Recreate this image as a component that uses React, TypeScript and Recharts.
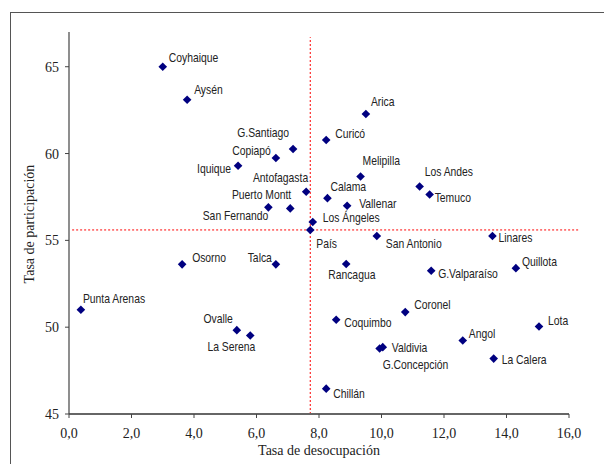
import React from 'react'
import { ScatterChart, Scatter, XAxis, YAxis, ReferenceLine, Label } from 'recharts'

// comunas, tasa de desocupación (%) y tasa de participación (%)
const comunas = [
  'Coyhaique', 'Aysén', 'G.Santiago', 'Copiapó', 'Iquique', 'Antofagasta', 'Puerto Montt',
  'San Fernando', 'Curicó', 'Los Ángeles', 'Arica', 'Melipilla', 'Los Andes', 'Temuco',
  'Calama', 'Vallenar', 'País', 'San Antonio', 'Linares', 'Rancagua', 'G.Valparaíso',
  'Quillota', 'Osorno', 'Talca', 'Punta Arenas', 'Ovalle', 'La Serena', 'Chillán', 'Coronel',
  'Coquimbo', 'Lota', 'Angol', 'Valdivia', 'G.Concepción', 'La Calera',
]
const desocupacion = [
  3.0, 3.78, 7.17, 6.62, 5.41, 7.59, 7.08, 6.38, 8.23, 7.8, 9.5, 9.33, 11.22, 11.54, 8.27,
  8.9, 7.72, 9.85, 13.55, 8.87, 11.59, 14.3, 3.62, 6.62, 0.38, 5.37, 5.8, 8.23, 10.76, 8.55,
  15.04, 12.6, 10.04, 9.94, 13.59,
]
const participacion = [
  65.0, 63.1, 60.26, 59.74, 59.3, 57.8, 56.84, 56.9, 60.78, 56.06, 62.28, 58.68, 58.1, 57.64,
  57.43, 56.99, 55.6, 55.25, 55.25, 53.64, 53.25, 53.4, 53.62, 53.62, 51.0, 49.83, 49.52,
  46.46, 50.87, 50.43, 50.04, 49.23, 48.85, 48.77, 48.19,
]
const promedioX = 7.72
const promedioY = 55.6
const xTicks = [0, 2, 4, 6, 8, 10, 12, 14, 16]
const yTicks = [45, 50, 55, 60, 65]

const data = comunas.map((name, i) => ({
  name,
  x: desocupacion[i],
  y: participacion[i],
}))

// dónde va cada etiqueta respecto del rombo: [dx, dy, anchor]
const etiquetas: Record<string, [number, number, 'start' | 'end']> = {
  Coyhaique: [6, -9, 'start'],
  'Aysén': [7, -10, 'start'],
  'G.Santiago': [-4, -16, 'end'],
  'Copiapó': [-5, -7, 'end'],
  Iquique: [-7, 3, 'end'],
  Antofagasta: [2, -14, 'end'],
  'Puerto Montt': [1, -14, 'end'],
  'San Fernando': [0, 8, 'end'],
  'Curicó': [9, -6, 'start'],
  'Los Ángeles': [10, -4, 'start'],
  Arica: [5, -12, 'start'],
  Melipilla: [2, -16, 'start'],
  'Los Andes': [5, -15, 'start'],
  Temuco: [5, 3, 'start'],
  Calama: [3, -12, 'start'],
  Vallenar: [12, -2.5, 'start'],
  'País': [6, 14, 'start'],
  'San Antonio': [9, 8, 'start'],
  Linares: [6, 2, 'start'],
  Rancagua: [-18, 11, 'start'],
  'G.Valparaíso': [7, 3, 'start'],
  Quillota: [6, -6, 'start'],
  Osorno: [10, -7, 'start'],
  Talca: [-4, -7, 'end'],
  'Punta Arenas': [2, -11, 'start'],
  Ovalle: [-4, -11, 'end'],
  'La Serena': [5, 11, 'end'],
  'Chillán': [7, 5, 'start'],
  Coronel: [9, -7, 'start'],
  Coquimbo: [8, 3, 'start'],
  Lota: [9, -6, 'start'],
  Angol: [6, -7, 'start'],
  Valdivia: [9, 0, 'start'],
  'G.Concepción': [3, 16, 'start'],
  'La Calera': [8, 1, 'start'],
}

const serif = '"Liberation Serif", "Times New Roman", Times, serif'
const sans = '"Liberation Sans", Arial, sans-serif'

const Rombo = (props: any) => {
  const { cx, cy, payload } = props
  const r = 4.3
  const [dx, dy, anchor] = etiquetas[payload.name] ?? [6, -8, 'start']
  return (
    <g>
      <path
        d={`M${cx},${cy - r}L${cx + r},${cy}L${cx},${cy + r}L${cx - r},${cy}Z`}
        fill="#000080"
      />
      {/* letra angosta, como Arial Narrow */}
      <text
        transform={`translate(${cx + dx},${cy + dy}) scale(0.83,1)`}
        textAnchor={anchor}
        dominantBaseline="central"
        fontFamily={sans}
        fontSize={12.5}
        fill="#222"
      >
        {payload.name}
      </text>
    </g>
  )
}

const TituloY = (props: any) => {
  const vb = props.viewBox ?? { x: 0, y: 32, width: 69, height: 382 }
  const cx = vb.x + 29
  const cy = vb.y + vb.height / 2 + 1
  return (
    <text
      transform={`translate(${cx},${cy}) rotate(-90)`}
      textAnchor="middle"
      dominantBaseline="central"
      fontFamily={serif}
      fontSize={14}
      fill="#222"
    >
      Tasa de participación
    </text>
  )
}

const TituloX = (props: any) => {
  const vb = props.viewBox ?? { x: 69, y: 414, width: 500, height: 30 }
  return (
    <text
      x={vb.x + vb.width / 2}
      y={vb.y + 36}
      textAnchor="middle"
      dominantBaseline="central"
      fontFamily={serif}
      fontSize={14}
      fill="#222"
    >
      Tasa de desocupación
    </text>
  )
}

export default function App() {
  return (
    <div
      style={{
        position: 'absolute',
        left: 0,
        top: 0,
        width: 604,
        height: 464,
        overflow: 'hidden',
        background: '#fff',
      }}
    >
      <div
        style={{
          position: 'absolute',
          left: 10,
          top: 12,
          width: 640,
          height: 500,
          border: '1px solid #555',
        }}
      />
      <div style={{ position: 'absolute', left: 0, top: 0 }}>
        <ScatterChart width={604} height={464} margin={{ top: 32, right: 35, bottom: 20, left: 0 }}>
          <XAxis
            type="number"
            dataKey="x"
            domain={[0, 16]}
            ticks={xTicks}
            height={30}
            tickSize={4}
            tickMargin={10}
            tickFormatter={(v: number) => v.toFixed(1).replace('.', ',')}
            axisLine={{ stroke: '#666', strokeWidth: 2 }}
            tickLine={{ stroke: '#444' }}
            tick={{ fill: '#222', fontSize: 14, fontFamily: serif }}
          >
            <Label content={<TituloX />} />
          </XAxis>
          <YAxis
            type="number"
            dataKey="y"
            domain={[45, 67]}
            ticks={yTicks}
            width={69}
            tickSize={4}
            tickMargin={6}
            axisLine={{ stroke: '#444', strokeWidth: 1.2 }}
            tickLine={{ stroke: '#444' }}
            tick={{ fill: '#222', fontSize: 14, fontFamily: serif }}
          >
            <Label content={<TituloY />} />
          </YAxis>
          <ReferenceLine
            segment={[
              { x: promedioX, y: 45 },
              { x: promedioX, y: 66.7 },
            ]}
            stroke="#ff0000"
            strokeDasharray="2 2"
            ifOverflow="visible"
          />
          <ReferenceLine
            segment={[
              { x: 0.1, y: promedioY },
              { x: 16.3, y: promedioY },
            ]}
            stroke="#ff0000"
            strokeDasharray="2 2"
            ifOverflow="visible"
          />
          <Scatter data={data} shape={<Rombo />} isAnimationActive={false} />
        </ScatterChart>
      </div>
    </div>
  )
}
